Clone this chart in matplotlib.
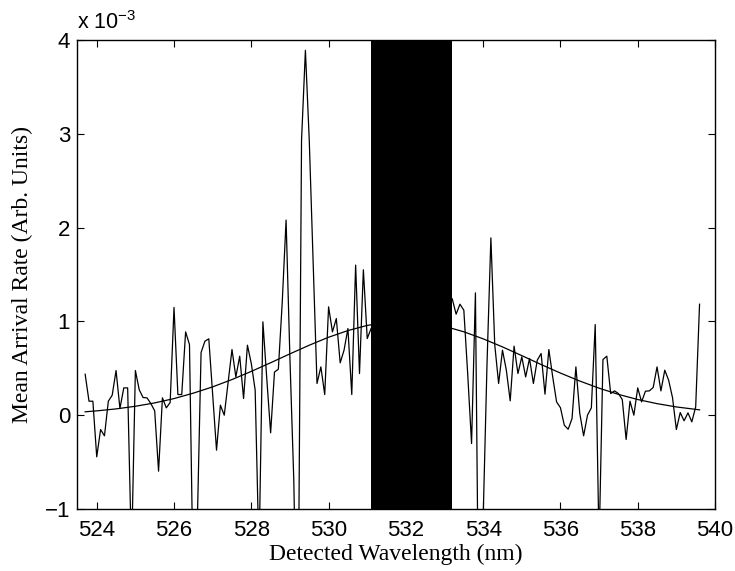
#%%
import numpy as np
import matplotlib.pyplot as plt

#%%
# measured arrival rate, x 1e-3, one sample every 0.1 nm from 523.7 to 539.6 nm
wl_start, wl_step = 523.7, 0.1
rate_left = [0.437, 0.149, 0.149, -0.444, -0.153, -0.22, 0.149, 0.213, 0.476, 0.071,
             0.291, 0.291, -1.5, 0.476, 0.27, 0.188, 0.185, 0.124, 0.046, -0.597,
             0.185, 0.078, 0.135, 1.148, 0.22, 0.22, 0.888, 0.753, -1.9, -1.2,
             0.668, 0.789, 0.814, 0.22, -0.373, 0.107, 0.0, 0.355, 0.70, 0.408,
             0.629, 0.178, 0.746, 0.551, 0.267, -1.5, 0.995, 0.391, -0.188, 0.46,
             0.49, 1.2, 2.08, 0.6, -0.7, -3.0, 2.93, 3.89, 2.93, 1.62,
             0.338, 0.515, 0.22, 1.155, 0.888, 1.03, 0.558, 0.693, 0.924, 0.22,
             1.6, 0.444, 1.55, 0.817, 0.924]
# samples hidden behind the blocked band (531.2 - 533.1 nm)
rate_hidden = [np.nan] * 20
rate_right = [1.24, 1.077, 1.183, 1.119, 0.44, -0.302, 1.304, -3.0, -1.1, 0.55,
              1.89, 0.75, 0.338, 0.693, 0.48, 0.153, 0.736, 0.444, 0.622, 0.408,
              0.604, 0.338, 0.586, 0.657, 0.224, 0.70, 0.408, 0.142, 0.08, -0.107,
              -0.15, -0.036, 0.515, 0.02, -0.22, 0.0, 0.078, 0.966, -1.4, 0.593,
              0.629, 0.231, 0.259, 0.231, 0.167, -0.259, 0.149, 0.0, 0.291, 0.142,
              0.256, 0.259, 0.295, 0.515, 0.259, 0.48, 0.373, 0.188, -0.153, 0.028,
              -0.06, 0.025, -0.071, 0.089, 1.183]
rate = np.array(rate_left + rate_hidden + rate_right)
wavelength = wl_start + wl_step * np.arange(len(rate))

# smooth reference curve, x 1e-3
curve_wl = [523.7, 524.0, 524.5, 525.0, 525.5, 526.0, 526.5, 527.0, 527.5, 528.0,
            528.5, 529.0, 529.5, 530.0, 530.5, 531.0, 531.5, 532.0, 532.5, 533.0,
            533.5, 534.0, 534.5, 535.0, 535.5, 536.0, 536.5, 537.0, 537.5, 538.0,
            538.5, 539.0, 539.5, 539.6]
curve_val = [0.036, 0.046, 0.067, 0.095, 0.131, 0.177, 0.235, 0.302, 0.380, 0.467,
             0.559, 0.654, 0.746, 0.831, 0.902, 0.957, 0.990, 1.000, 0.985, 0.948,
             0.889, 0.814, 0.728, 0.635, 0.540, 0.449, 0.364, 0.288, 0.222, 0.167,
             0.123, 0.088, 0.062, 0.057]

# blocked (filter) band
band = (531.1, 533.2)

#%%
plt.rcParams['font.family'] = ['Liberation Sans', 'DejaVu Sans']
plt.rcParams['mathtext.default'] = 'regular'

fig = plt.figure(figsize=(7.35, 5.71), dpi=100)
ax = fig.add_axes([0.1048, 0.1086, 0.868, 0.8214])

ax.plot(wavelength, rate, color='black', lw=0.9, zorder=2)
ax.plot(curve_wl, curve_val, color='black', lw=0.9, zorder=2)
ax.axvspan(band[0], band[1], color='black', lw=0, zorder=3)

ax.set_xlim(523.49, 540)
ax.set_ylim(-1, 4)
ax.set_xticks(np.arange(524, 541, 2))
ax.set_yticks(np.arange(-1, 5, 1))
ax.tick_params(direction='in', top=True, right=True, length=5, width=0.8,
               labelsize=16)
ax.tick_params(axis='x', pad=8)
ax.tick_params(axis='y', pad=5)
for s in ax.spines.values():
    s.set_linewidth(1.0)

ax.set_xlabel('Detected Wavelength (nm)', family=['Liberation Serif'], fontsize=17, labelpad=2)
ax.set_ylabel('Mean Arrival Rate (Arb. Units)', family=['Liberation Serif'], fontsize=17, labelpad=8)
ax.text(0.0, 1.012, r'x 10$^{-3}$', transform=ax.transAxes, fontsize=15.5,
        ha='left', va='bottom')

fig.savefig('out.png', dpi=100)
